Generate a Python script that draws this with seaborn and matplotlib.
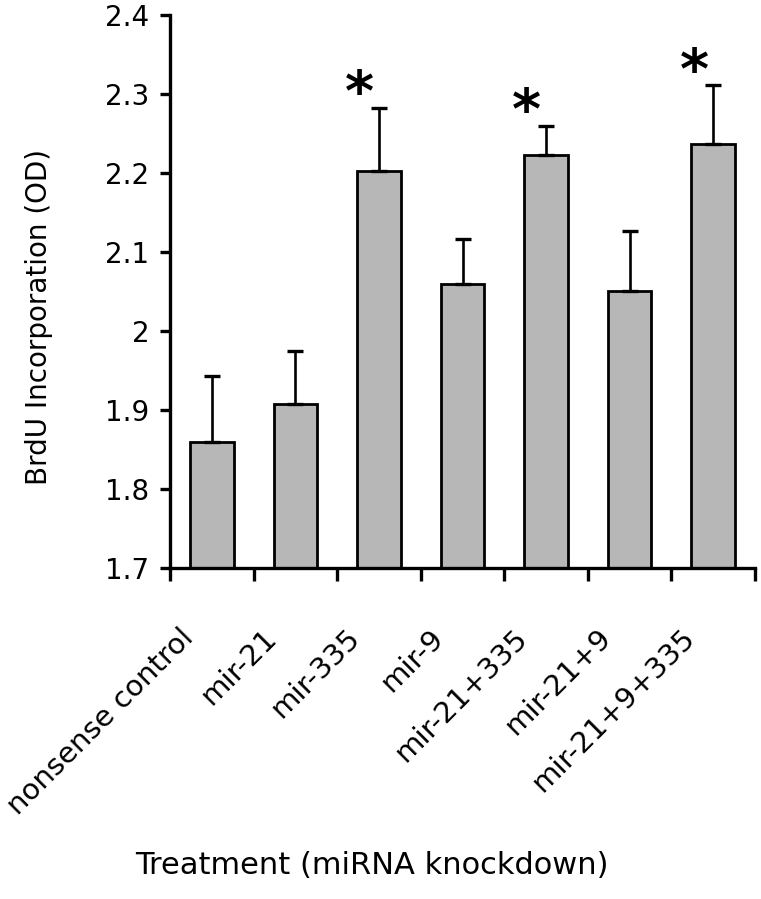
import numpy as np
import pandas as pd
import seaborn as sns
import matplotlib
matplotlib.use("Agg")
from matplotlib import pyplot as plt
from matplotlib import transforms

# data
treatments = ["nonsense control", "mir-21", "mir-335", "mir-9",
              "mir-21+335", "mir-21+9", "mir-21+9+335"]
brdu_od = [1.860, 1.908, 2.203, 2.060, 2.223, 2.051, 2.237]
err_up = [0.083, 0.067, 0.079, 0.057, 0.037, 0.076, 0.074]
significant = [False, False, True, False, True, False, True]

df = pd.DataFrame({"Treatment": treatments, "OD": brdu_od})

sns.set_style("white")
plt.rcParams["font.family"] = ["DejaVu Sans"]
plt.rcParams["text.color"] = "black"
plt.rcParams["axes.labelcolor"] = "black"

fig = plt.figure(figsize=(7.61, 8.99), dpi=100)
ax = fig.add_axes([170 / 761, 1 - 568 / 899, 585 / 761, 553 / 899])

sns.barplot(data=df, x="Treatment", y="OD", color="#b7b7b7", saturation=1,
            width=0.52, edgecolor="black", linewidth=2.0, errorbar=None, ax=ax)

xpos = np.arange(len(treatments))
ax.errorbar(xpos, brdu_od, yerr=[np.zeros(len(err_up)), err_up], fmt="none",
            ecolor="black", elinewidth=1.9, capsize=6, capthick=2.4, zorder=1)

# asterisks for significant bars
for i, sig in enumerate(significant):
    if sig:
        ax.text(i - 0.23, brdu_od[i] + err_up[i] - 0.018, "*", ha="center",
                va="bottom", fontsize=40, fontweight="bold")

ax.set_ylim(1.7, 2.4)
ax.set_xlim(-0.5, 6.5)
ax.set_yticks([1.7, 1.8, 1.9, 2.0, 2.1, 2.2, 2.3, 2.4])
ax.set_yticklabels(["1.7", "1.8", "1.9", "2", "2.1", "2.2", "2.3", "2.4"])

sns.despine(ax=ax)
for s in ["left", "bottom"]:
    ax.spines[s].set_linewidth(2.4)
    ax.spines[s].set_color("black")

ax.tick_params(axis="y", direction="out", length=7, width=2.4, labelsize=20,
               pad=8, left=True, colors="black")
ax.set_xticks(np.arange(-0.5, 7, 1), minor=True)
ax.tick_params(axis="x", which="minor", direction="out", length=9, width=2.4,
               bottom=True, colors="black")
ax.tick_params(axis="x", which="major", length=0, labelsize=21, pad=40,
               labelcolor="black")

ax.set_xticks(xpos)
ax.set_xticklabels(treatments, rotation=45, ha="right", va="top")
offset = transforms.ScaledTranslation(-13 / 100, 0, fig.dpi_scale_trans)
for lab in ax.get_xticklabels():
    lab.set_transform(lab.get_transform() + offset)

ax.set_xlabel("Treatment (miRNA knockdown)", fontsize=22)
ax.xaxis.set_label_coords(0.345, -0.512)
ax.set_ylabel("BrdU Incorporation (OD)", fontsize=20)
ax.yaxis.set_label_coords(-0.20, 0.454)

plt.savefig("out.png", dpi=100)
